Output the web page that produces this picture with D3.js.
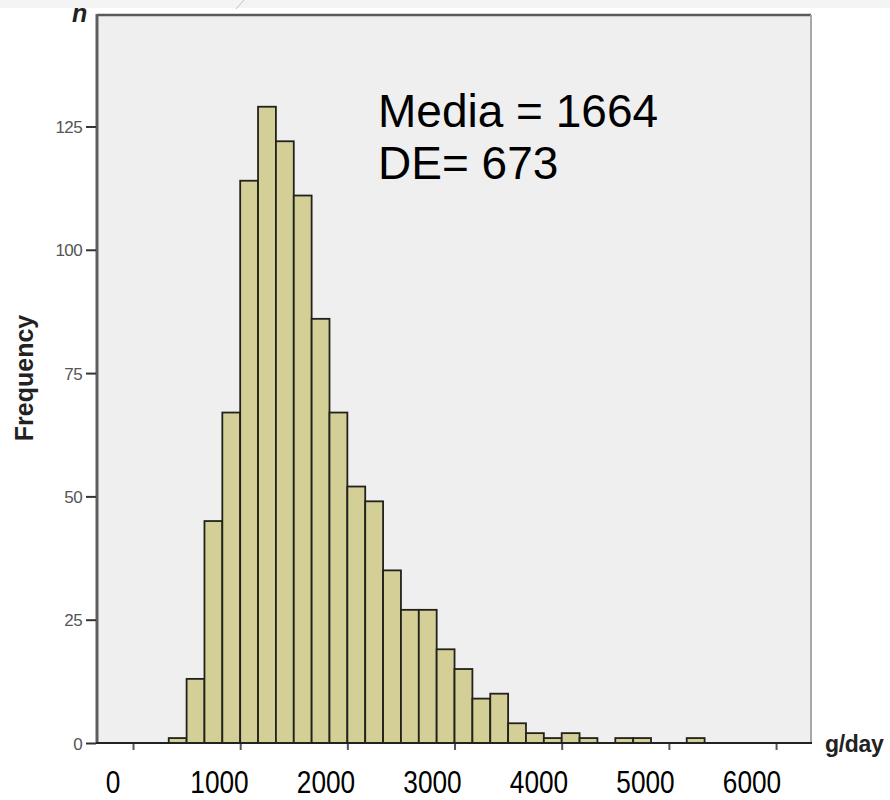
<!DOCTYPE html>
<html>
<head>
<meta charset="utf-8">
<script src="https://cdn.jsdelivr.net/npm/d3@7/dist/d3.min.js"></script>
<style>
  html, body { margin: 0; padding: 0; background: #ffffff; }
  svg { display: block; }
  text { font-family: "Liberation Sans", Arial, sans-serif; }
</style>
</head>
<body>
<script>
// Histogram of daily intake (g/day): bins of 1000/6 g starting at 333.3 g
const binWidth = 1000 / 6;
const firstBinStart = 2000 / 6;
const counts = [1, 13, 45, 67, 114, 129, 122, 111, 86, 67, 52, 49, 35, 27, 27,
                19, 15, 9, 10, 4, 2, 1, 2, 1, 0, 1, 1, 0, 0, 1];
const xTicks = [0, 1000, 2000, 3000, 4000, 5000, 6000];
const xTickLabels = ["0", "1000", "2000", "3000", "4000", "5000", "6000"];
const yTicks = [0, 25, 50, 75, 100, 125];
const statLines = ["Media = 1664", "DE= 673"];
const xTitle = "g/day";
const yTitle = "Frequency";
const yCorner = "n";

const W = 890, H = 800;
const frame = { left: 97, right: 811, top: 15, bottom: 743 };

const svg = d3.select("body").append("svg")
  .attr("width", W).attr("height", H);

// faint strip along the top edge
svg.append("rect").attr("x", 0).attr("y", 0).attr("width", W).attr("height", 8)
  .attr("fill", "#f4f4f5");
svg.append("line").attr("x1", 244).attr("y1", 0).attr("x2", 236).attr("y2", 9)
  .attr("stroke", "#b9c2cc").attr("stroke-width", 1);

const x = d3.scaleLinear().domain([-336, 6326]).range([frame.left, frame.right]);
const y = d3.scaleLinear().domain([0, 147.6]).range([frame.bottom, frame.top]);

// plot background
svg.append("rect")
  .attr("x", frame.left).attr("y", frame.top)
  .attr("width", frame.right - frame.left).attr("height", frame.bottom - frame.top)
  .attr("fill", "#efefef");

// bars
const bins = counts.map((c, i) => ({
  x0: firstBinStart + i * binWidth,
  x1: firstBinStart + (i + 1) * binWidth,
  n: c
})).filter(d => d.n > 0);

svg.append("g").selectAll("rect").data(bins).join("rect")
  .attr("x", d => x(d.x0))
  .attr("y", d => y(d.n))
  .attr("width", d => x(d.x1) - x(d.x0))
  .attr("height", d => y(0) - y(d.n))
  .attr("fill", "#d4cf96")
  .attr("stroke", "#22221c")
  .attr("stroke-width", 1.8);

// frame borders
svg.append("line").attr("x1", frame.left).attr("x2", frame.right)
  .attr("y1", frame.top).attr("y2", frame.top)
  .attr("stroke", "#5a5a5a").attr("stroke-width", 2.5);
svg.append("line").attr("x1", frame.right).attr("x2", frame.right)
  .attr("y1", frame.top).attr("y2", frame.bottom)
  .attr("stroke", "#a8a8a8").attr("stroke-width", 2);
svg.append("line").attr("x1", frame.left).attr("x2", frame.left)
  .attr("y1", frame.top - 1).attr("y2", frame.bottom)
  .attr("stroke", "#5e5e5e").attr("stroke-width", 3);

// y axis
const yAxis = svg.append("g")
  .attr("transform", `translate(${frame.left - 1},0)`)
  .call(d3.axisLeft(y).tickValues(yTicks).tickSize(10).tickPadding(4));
yAxis.select(".domain").remove();
yAxis.selectAll(".tick line").attr("stroke", "#333").attr("stroke-width", 2);
yAxis.selectAll(".tick text")
  .attr("font-family", "Liberation Sans, Arial, sans-serif")
  .attr("font-size", 17).attr("fill", "#555")
  .attr("letter-spacing", -0.6)
  .attr("dy", "0.36em");

// x axis
const xAxis = svg.append("g")
  .attr("transform", `translate(0,${frame.bottom})`)
  .call(d3.axisBottom(x).tickValues(xTicks).tickSize(7).tickFormat(""));
xAxis.select(".domain").remove();
xAxis.selectAll(".tick line").attr("stroke", "#555").attr("stroke-width", 2);
svg.append("line").attr("x1", frame.left - 1).attr("x2", frame.right + 1)
  .attr("y1", frame.bottom).attr("y2", frame.bottom)
  .attr("stroke", "#222").attr("stroke-width", 2);

// large x tick labels, set slightly left of each tick
const labelX = d3.scaleLinear().domain([0, 6000]).range([113, 752]);
svg.append("g").selectAll("text").data(xTicks).join("text")
  .attr("transform", d => `translate(${labelX(d)},793) scale(0.82,1)`)
  .attr("text-anchor", "middle")
  .attr("font-size", 32).attr("fill", "#000")
  .text((d, i) => xTickLabels[i]);

// axis titles
svg.append("text")
  .attr("x", 825).attr("y", 752)
  .attr("font-size", 23).attr("font-weight", "bold").attr("fill", "#222")
  .attr("letter-spacing", -0.3)
  .text(xTitle);

svg.append("text")
  .attr("transform", "translate(33,378) rotate(-90)")
  .attr("text-anchor", "middle")
  .attr("font-size", 25).attr("font-weight", "bold").attr("fill", "#222")
  .text(yTitle);

svg.append("text")
  .attr("x", 72).attr("y", 22)
  .attr("font-size", 25).attr("font-weight", "bold").attr("font-style", "italic")
  .attr("fill", "#222")
  .text(yCorner);

// summary statistics
svg.append("g").selectAll("text").data(statLines).join("text")
  .attr("x", 378)
  .attr("y", (d, i) => 127 + i * 52)
  .attr("font-size", 46).attr("fill", "#000")
  .text(d => d);
</script>
</body>
</html>
